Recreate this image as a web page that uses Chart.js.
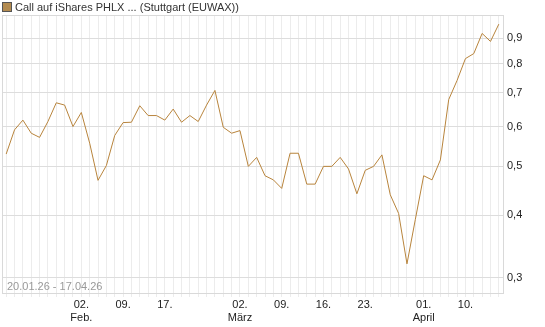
<!DOCTYPE html>
<html><head><meta charset="utf-8">
<script src="https://cdn.jsdelivr.net/npm/chart.js@4/dist/chart.umd.min.js"></script>
<style>html,body{margin:0;padding:0;background:#fff}#wrap{width:545px;height:327px}canvas{display:block}</style>
</head><body><div id="wrap"><canvas id="c" width="545" height="327"></canvas></div>
<script>
const seriesName = 'Call auf iShares PHLX ... (Stuttgart (EUWAX))';
const rangeText = '20.01.26 - 17.04.26';
const dates = ['20.01','21.01','22.01','23.01','26.01','27.01','28.01','29.01','30.01',
  '02.02','03.02','04.02','05.02','06.02','09.02','10.02','11.02','12.02','13.02',
  '17.02','18.02','19.02','20.02','23.02','24.02','25.02','26.02','27.02',
  '02.03','03.03','04.03','05.03','06.03','09.03','10.03','11.03','12.03','13.03',
  '16.03','17.03','18.03','19.03','20.03','23.03','24.03','25.03','26.03','27.03',
  '30.03','31.03','01.04','02.04','07.04','08.04','09.04','10.04',
  '13.04','14.04','15.04','16.04'];
const values = [0.529,0.591,0.618,0.582,0.571,0.614,0.669,0.662,0.600,
  0.640,0.556,0.469,0.502,0.576,0.611,0.612,0.660,0.631,0.631,
  0.618,0.650,0.612,0.631,0.614,0.662,0.708,0.598,0.582,
  0.589,0.500,0.521,0.479,0.470,0.452,0.531,0.531,0.461,0.461,
  0.500,0.500,0.521,0.494,0.441,0.491,0.500,0.527,0.439,0.403,
  0.320,0.392,0.479,0.470,0.515,0.679,0.741,0.819,
  0.838,0.919,0.886,0.959];
const tickDates = ['02.02','09.02','17.02','02.03','09.03','16.03','23.03','01.04','10.04'];
const tickTexts = [['02.','Feb.'],['09.'],['17.'],['02.','März'],['09.'],['16.'],['23.'],['01.','April'],['10.']];
const yTicks = [0.3,0.4,0.5,0.6,0.7,0.8,0.9];

const FONT = '"Liberation Sans", Arial, sans-serif';
const LINE = '#b8843c';

const framePlugin = {
  id: 'frame',
  beforeDatasetsDraw(chart) {
    const a = chart.chartArea, c = chart.ctx;
    c.save();
    c.strokeStyle = '#d9d9d9';
    c.lineWidth = 1;
    c.strokeRect(Math.round(a.left) + 0.5, Math.round(a.top) + 0.5,
      Math.round(a.right - a.left), Math.round(a.bottom - a.top));
    c.font = '11px ' + FONT;
    c.fillStyle = '#999999';
    c.textBaseline = 'alphabetic';
    c.textAlign = 'left';
    c.fillText(rangeText, 7, 290);
    c.restore();
  },
  afterDraw(chart) {
    const c = chart.ctx;
    c.save();
    c.fillStyle = '#b38b50';
    c.fillRect(2, 2, 10, 10);
    c.strokeStyle = '#555555';
    c.lineWidth = 1;
    c.strokeRect(2.5, 2.5, 9, 9);
    c.font = '11px ' + FONT;
    c.fillStyle = '#333333';
    c.textBaseline = 'alphabetic';
    c.textAlign = 'left';
    c.fillText(chart.data.datasets[0].label, 15, 11);
    c.restore();
  }
};

new Chart(document.getElementById('c'), {
  type: 'line',
  data: {
    labels: dates,
    datasets: [{label: seriesName, data: values, borderColor: LINE, borderWidth: 1,
      pointRadius: 0, tension: 0, fill: false}]
  },
  options: {
    responsive: false, animation: false, devicePixelRatio: 1,
    layout: {padding: {left: 2, top: 15, right: 0, bottom: 0}},
    plugins: {legend: {display: false}, tooltip: {enabled: false}},
    scales: {
      x: {
        type: 'category', offset: true,
        grid: {color: '#ececec', tickLength: 4, drawTicks: true, offset: false},
        border: {display: false},
        ticks: {autoSkip: false, maxRotation: 0, minRotation: 0, padding: 1, color: '#222222',
          font: {family: FONT, size: 11}, lineHeight: 1.15,
          callback: (v, i) => { const k = tickDates.indexOf(dates[i]); return k >= 0 ? tickTexts[k] : ''; }},
        afterFit: s => { s.height = 34; }
      },
      y: {
        type: 'logarithmic', position: 'right', min: 0.283, max: 1.0,
        afterBuildTicks: s => { s.ticks = yTicks.map(v => ({value: v})); },
        grid: {color: '#dddddd', drawTicks: false},
        border: {display: false},
        ticks: {padding: 4, color: '#222222', font: {family: FONT, size: 11},
          callback: v => String(v).replace('.', ',')},
        afterFit: s => { s.width = 42; }
      }
    }
  },
  plugins: [framePlugin]
});
</script>
</body></html>
